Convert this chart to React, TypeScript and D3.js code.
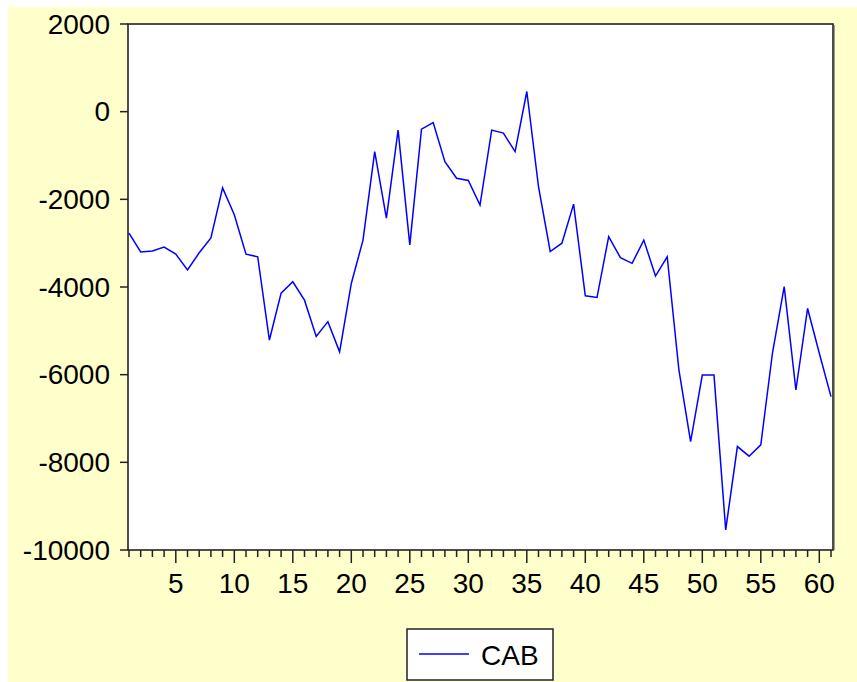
import React from "react";
import * as d3 from "d3";

const observations: number[] = d3.range(1, 62);
const cabValues: number[] = [
  -2770, -3200, -3180, -3090, -3250, -3610, -3220, -2880, -1740, -2350,
  -3250, -3310, -5210, -4140, -3880, -4300, -5130, -4790, -5480, -3920,
  -2930, -912, -2430, -420, -3040, -400, -250, -1140, -1520, -1570,
  -2130, -420, -490, -910, 460, -1710, -3190, -3000, -2110, -4200,
  -4240, -2850, -3330, -3460, -2930, -3750, -3310, -5890, -7530, -6010,
  -6010, -9540, -7640, -7860, -7600, -5500, -3990, -6350, -4490, -5510,
  -6500,
];
const yTicks: number[] = [2000, 0, -2000, -4000, -6000, -8000, -10000];
const xMajorTicks: number[] = [5, 10, 15, 20, 25, 30, 35, 40, 45, 50, 55, 60];
const seriesName = "CAB";

export default function App() {
  const W = 857;
  const H = 682;
  const left = 128;
  const right = 833;
  const top = 24;
  const bottom = 550;

  const x = d3.scaleLinear().domain([1, 61]).range([129, 831]);
  const y = d3.scaleLinear().domain([-10000, 2000]).range([bottom, top]);

  const line = d3
    .line<number>()
    .x((_, i) => x(observations[i]))
    .y((d) => y(d));

  const font = "'Liberation Sans', Arial, sans-serif";

  return (
    <svg
      width={W}
      height={H}
      style={{ position: "absolute", left: 0, top: 0, display: "block" }}
    >
      <rect x={0} y={0} width={W} height={H} fill="#ffffff" />
      <rect x={8} y={7} width={W - 8} height={H - 7} fill="#FFFFCC" />
      <rect x={left} y={top} width={right - left} height={bottom - top} fill="#ffffff" />
      <line x1={right + 1.5} x2={right + 1.5} y1={top + 1} y2={bottom} stroke="#9a9a9a" strokeWidth={1} />
      <rect
        x={left}
        y={top}
        width={right - left}
        height={bottom - top}
        fill="none"
        stroke="#222"
        strokeWidth={1.6}
      />
      <defs>
        <clipPath id="plotclip">
          <rect x={left} y={top} width={right - left} height={bottom - top} />
        </clipPath>
      </defs>
      <path
        d={line(cabValues) || ""}
        fill="none"
        stroke="#0000FF"
        strokeWidth={1.5}
        clipPath="url(#plotclip)"
      />
      {yTicks.map((t) => (
        <g key={t}>
          <line x1={left - 8} x2={left} y1={y(t)} y2={y(t)} stroke="#222" strokeWidth={1.5} />
          <text
            x={110}
            y={y(t)}
            textAnchor="end"
            dominantBaseline="central"
            fontFamily={font}
            fontSize={28}
            fill="#000"
          >
            {t}
          </text>
        </g>
      ))}
      {observations.map((o) => (
        <line
          key={"m" + o}
          x1={x(o)}
          x2={x(o)}
          y1={bottom}
          y2={xMajorTicks.includes(o) ? bottom + 13 : bottom + 7}
          stroke="#222"
          strokeWidth={1.5}
        />
      ))}
      {xMajorTicks.map((t) => (
        <text
          key={"l" + t}
          x={x(t)}
          y={593}
          textAnchor="middle"
          fontFamily={font}
          fontSize={28}
          fill="#000"
        >
          {t}
        </text>
      ))}
      <rect x={407} y={629} width={146} height={51} fill="#ffffff" stroke="#222" strokeWidth={1.5} />
      <line x1={419} x2={469} y1={654} y2={654} stroke="#0000FF" strokeWidth={1.5} />
      <text x={481} y={665} fontFamily={font} fontSize={28} fill="#000">
        {seriesName}
      </text>
    </svg>
  );
}
